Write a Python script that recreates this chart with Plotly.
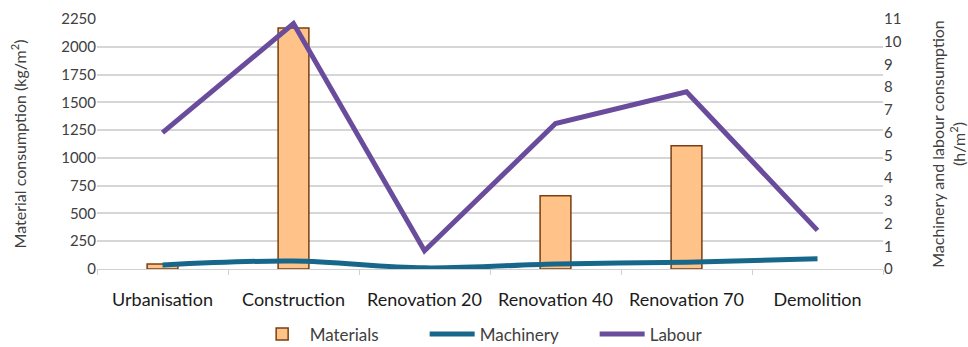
import plotly.graph_objects as go

categories = ["Urbanisation", "Construction", "Renovation 20", "Renovation 40", "Renovation 70", "Demolition"]
materials = [45, 2170, None, 660, 1110, None]
machinery = [0.18, 0.35, 0.05, 0.22, 0.3, 0.45]
labour = [6.0, 10.8, 0.8, 6.4, 7.8, 1.7]

FONT = "Lato"
fig = go.Figure()
fig.add_trace(go.Bar(
    x=categories, y=materials, name="Materials", width=0.235,
    marker=dict(color="#FFC288", line=dict(color="#7A3E10", width=1.5)),
    yaxis="y",
))
fig.add_trace(go.Scatter(
    x=categories, y=machinery, name="Machinery", mode="lines",
    line=dict(color="#17678A", width=5, shape="spline"), yaxis="y2",
))
fig.add_trace(go.Scatter(
    x=categories, y=labour, name="Labour", mode="lines",
    line=dict(color="#6A4C9C", width=5), yaxis="y2",
))

fig.update_layout(
    width=968, height=347,
    margin=dict(l=97, r=85, t=19, b=78, autoexpand=False),
    paper_bgcolor="white", plot_bgcolor="white",
    font=dict(family=FONT, size=14, color="#404040"),
    showlegend=True,
    legend=dict(orientation="h", x=0.525, xanchor="center", y=-0.19, yanchor="top",
                font=dict(size=17, color="#404040"), traceorder="normal",
                itemwidth=45, tracegroupgap=0, entrywidth=110),
    xaxis=dict(showgrid=False, showline=True, linecolor="#D0D0D0", ticks="outside",
               tickson="boundaries", ticklen=5, tickcolor="#D0D0D0", automargin=False,
               ticklabelstandoff=14,
               tickfont=dict(size=18, color="#1a1a1a")),
    yaxis=dict(range=[0, 2250], dtick=250, showgrid=True, gridcolor="#D6D6D6", gridwidth=1.5,
               zeroline=False, tickfont=dict(size=15, color="#404040"), automargin=False,
               title=dict(text="Material consumption (kg/m<sup>2</sup>)", font=dict(size=16, color="#404040"), standoff=30)),
    yaxis2=dict(range=[0, 11], dtick=1, overlaying="y", side="right", showgrid=False,
                zeroline=False, tickfont=dict(size=15, color="#404040"), automargin=False,
                title=dict(text="Machinery and labour consumption<br>(h/m<sup>2</sup>)", font=dict(size=16, color="#404040"), standoff=33)),
)

fig.write_html("out.html")
